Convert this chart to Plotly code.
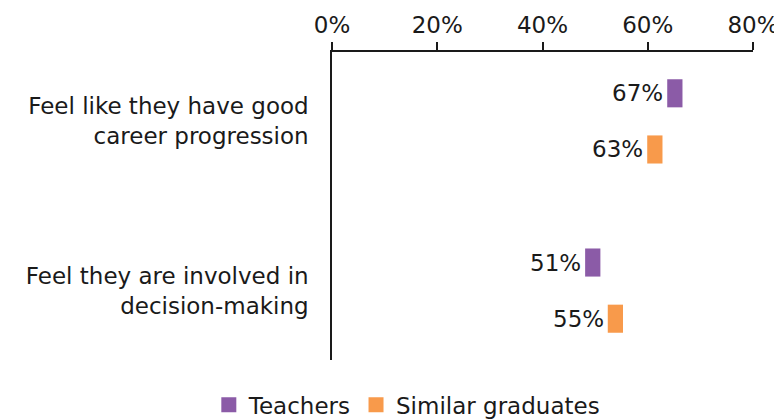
import plotly.graph_objects as go

categories = ["Feel like they have good<br>career progression",
              "Feel they are involved in<br>decision-making"]
series_names = ["Teachers", "Similar graduates"]
teachers = [66.6, 51.0]
graduates = [62.8, 55.3]
tick_vals = [0, 20, 40, 60, 80]
tick_text = ["0%", "20%", "40%", "60%", "80%"]

colors = ["#8b5ba7", "#f89a4b"]
FONT = "DejaVu Sans"
FS = 23
seg = 2.9      # marker length in % units
off = 0.166    # vertical offset within a group
h = 0.166      # marker thickness

fig = go.Figure()
for k, (name, vals) in enumerate(zip(series_names, [teachers, graduates])):
    ys = [i + (off if k else -off) for i in range(len(categories))]
    fig.add_trace(go.Bar(
        y=ys, x=[seg] * len(vals), base=[v - seg for v in vals],
        orientation="h", width=h, name=name, showlegend=False,
        marker=dict(color=colors[k], line=dict(width=0)),
    ))
    # legend entry with a bigger square swatch
    fig.add_trace(go.Scatter(x=[None], y=[None], mode="markers", name=name,
                             marker=dict(symbol="square", size=15, color=colors[k])))
    for y, v in zip(ys, vals):
        fig.add_annotation(x=v - seg, y=y, text=f"{round(v)}%", showarrow=False,
                           xanchor="right", xshift=-2,
                           font=dict(family=FONT, size=FS, color="#1a1a1a"))

fig.update_layout(
    width=782, height=420,
    margin=dict(l=324, r=37, t=44, b=68, autoexpand=False),
    plot_bgcolor="white", paper_bgcolor="white",
    font=dict(family=FONT, size=FS, color="#1a1a1a"),
    barmode="overlay",
    legend=dict(orientation="h", xref="container", x=0.51, xanchor="center",
                yref="container", y=0.055, yanchor="middle",
                font=dict(size=FS), itemwidth=30, traceorder="normal"),
)
fig.update_xaxes(range=[0, 80], side="top", tickvals=tick_vals, ticktext=tick_text,
                 showline=True, linecolor="#1a1a1a", linewidth=1.5,
                 ticks="outside", ticklen=8, tickcolor="#1a1a1a", tickwidth=1.5,
                 showgrid=False, zeroline=False, automargin=False)
fig.update_yaxes(range=[1.41, -0.41], tickvals=[0, 1], ticktext=categories,
                 showline=True, linecolor="#1a1a1a", linewidth=1.5,
                 showgrid=False, zeroline=False, ticks="", ticklabelstandoff=17,
                 automargin=False)

fig.write_html("out.html")
